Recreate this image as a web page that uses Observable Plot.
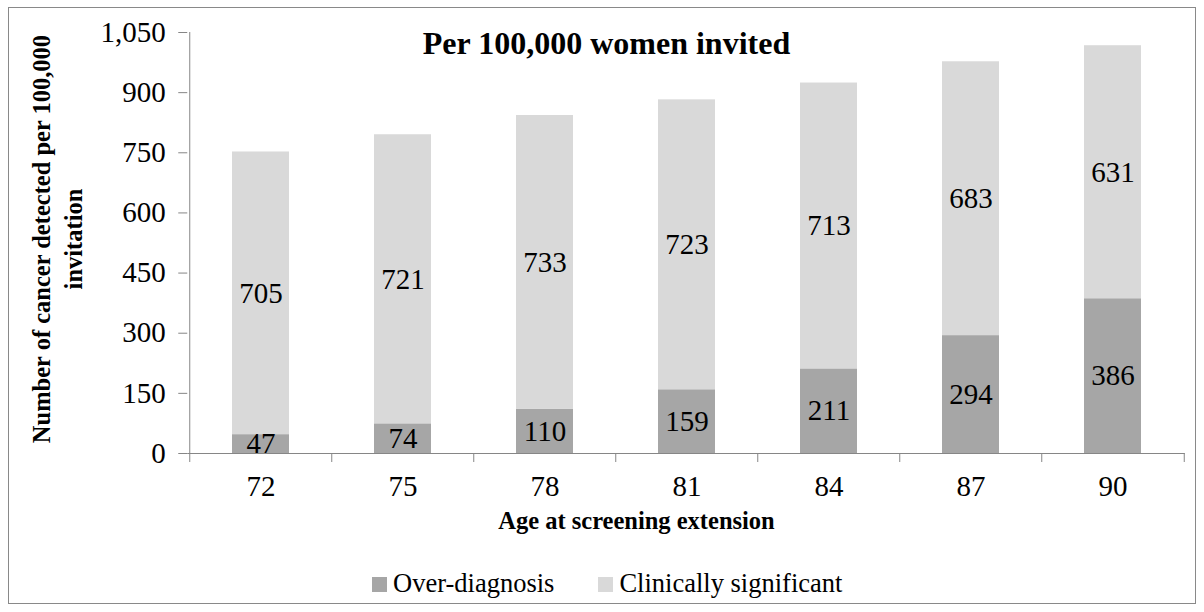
<!DOCTYPE html>
<html>
<head>
<meta charset="utf-8">
<script src="https://cdn.jsdelivr.net/npm/d3@7"></script>
<script src="https://cdn.jsdelivr.net/npm/@observablehq/plot@0.6"></script>
<style>
  html, body { margin: 0; padding: 0; background: #fff; }
  body { width: 1204px; height: 612px; position: relative; font-family: "Liberation Serif", "Times New Roman", serif; }
  #frame { position: absolute; left: 8px; top: 7px; width: 1188px; height: 597px; box-sizing: border-box; border: 1px solid #898989; background: #fff; }
  #chart svg { display: block; }
  #legend { position: absolute; left: 0; top: 559px; width: 100%; display: flex; padding-left: 363px; box-sizing: border-box; font-size: 26.5px; line-height: 32px; color: #000; }
  .item { display: flex; align-items: center; }
  .sw { width: 15px; height: 15px; margin-right: 6px; margin-top: 2px; }
</style>
</head>
<body>
<div id="frame">
  <div id="chart"></div>
  <div id="legend"></div>
</div>
<script>
const ages = [72, 75, 78, 81, 84, 87, 90];
const overDiagnosis = [47, 74, 110, 159, 211, 294, 386];
const clinicallySignificant = [705, 721, 733, 723, 713, 683, 631];
const seriesNames = ["Over-diagnosis", "Clinically significant"];
const seriesColors = ["#a6a6a6", "#d9d9d9"];
const yTicks = [0, 150, 300, 450, 600, 750, 900, 1050];
const title = "Per 100,000 women invited";
const yLabel = "Number of cancer detected per 100,000\ninvitation";
const xLabel = "Age at screening extension";

const data = [];
ages.forEach((a, i) => {
  data.push({age: a, series: seriesNames[0], value: overDiagnosis[i]});
  data.push({age: a, series: seriesNames[1], value: clinicallySignificant[i]});
});

const half = 142.5 / 2;
const axisColor = "#868686";

const chart = Plot.plot({
  width: 1186,
  height: 540,
  marginLeft: 178.25,
  marginRight: 10.25,
  marginTop: 24,
  marginBottom: 95,
  style: {fontFamily: "'Liberation Serif', 'Times New Roman', serif", background: "transparent", overflow: "visible"},
  x: {type: "band", domain: ages, paddingInner: 0.6, paddingOuter: 0.3, label: null},
  y: {domain: [0, 1050], label: null},
  color: {domain: seriesNames, range: seriesColors},
  marks: [
    Plot.barY(data, Plot.stackY({x: "age", y: "value", fill: "series", z: "series", order: seriesNames})),
    Plot.text(data, Plot.stackY({x: "age", y: "value", z: "series", order: seriesNames, text: "value", fontSize: 29, fill: "black"})),
    Plot.ruleY([0], {stroke: axisColor}),
    Plot.ruleX([ages[0]], {dx: -half, stroke: axisColor}),
    Plot.ruleX(ages, {dx: -half, stroke: axisColor, insetTop: 421, insetBottom: -9}),
    Plot.ruleX([ages[ages.length - 1]], {dx: half, stroke: axisColor, insetTop: 421, insetBottom: -9}),
    Plot.axisY(yTicks, {tickSize: 9, tickPadding: 13, tickFormat: d3.format(","), fontSize: 29, stroke: axisColor, fill: "black", label: null}),
    Plot.axisX({tickSize: 0, tickPadding: 22, fontSize: 29, fill: "black", label: null}),
    Plot.text([title], {text: d => d, frameAnchor: "top", dx: -80, dy: 11, fontSize: 32, fontWeight: "bold", fill: "black", lineAnchor: "middle"}),
    Plot.text([xLabel], {text: d => d, frameAnchor: "bottom", dx: -50, dy: 68, fontSize: 24.5, fontWeight: "bold", fill: "black", lineAnchor: "middle"}),
    Plot.text([yLabel], {text: d => d, frameAnchor: "left", textAnchor: "middle", dx: -132, dy: -4, rotate: -90, fontSize: 24.5, fontWeight: "bold", fill: "black", lineAnchor: "middle", lineHeight: 1.3})
  ]
});
document.getElementById("chart").appendChild(chart);

const legend = document.getElementById("legend");
seriesNames.forEach((name, i) => {
  const item = document.createElement("div");
  item.className = "item";
  if (i > 0) item.style.marginLeft = "44px";
  const sw = document.createElement("div");
  sw.className = "sw";
  sw.style.background = seriesColors[i];
  const label = document.createElement("span");
  label.textContent = name;
  item.appendChild(sw);
  item.appendChild(label);
  legend.appendChild(item);
});
</script>
</body>
</html>
